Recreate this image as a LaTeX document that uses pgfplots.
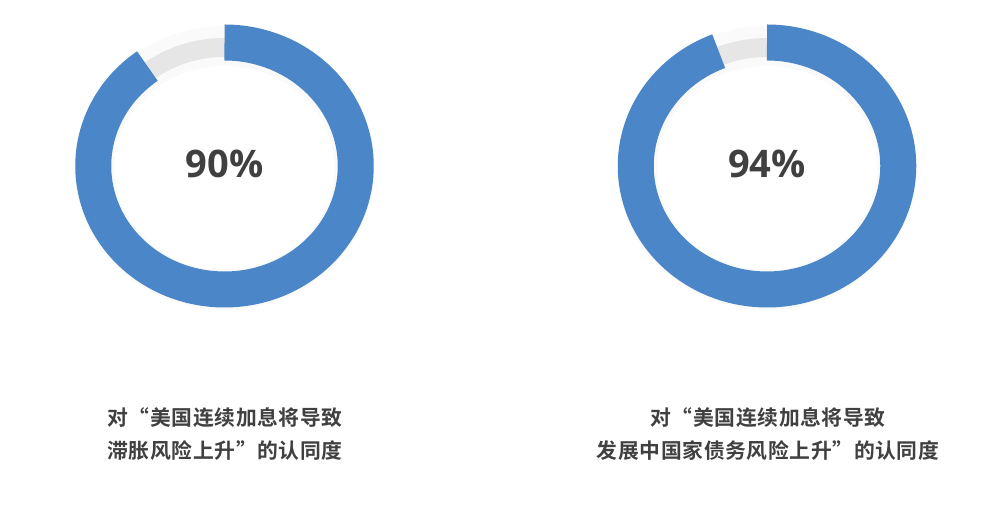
\documentclass[border=0pt]{standalone}
\usepackage{pgfplots}
\pgfplotsset{compat=1.18}
\usepackage{fontspec}
\setmainfont{Open Sans}
\newfontfamily\cjkb{Noto Sans CJK SC Bold}[LetterSpace=3]
\definecolor{ringblue}{HTML}{4A86C8}
\definecolor{track}{HTML}{E6E6E6}
\definecolor{txt}{HTML}{404040}
% agreement values (percent)
\def\valA{90}
\def\valB{94}
\pgfmathsetmacro\startA{90-3.6*\valA}
\pgfmathsetmacro\startB{90-3.6*\valB}
\begin{document}
\begin{tikzpicture}
\begin{axis}[
  scale only axis, width=494.5pt, height=253.5pt,
  xmin=0, xmax=989, ymin=0, ymax=507,
  hide axis, clip=false,
]
\addplot[draw=none] coordinates {(0,0) (989,507)};
% faint shadows
\addplot[domain=0:360, samples=240, variable=\t, draw=black, opacity=0.018, line width=20pt]
  ({224.5+130*cos(\t)},{339+122*sin(\t)});
\addplot[domain=0:360, samples=240, variable=\t, draw=black, opacity=0.018, line width=20pt]
  ({767+130*cos(\t)},{339+122*sin(\t)});
% tracks
\addplot[domain=0:360, samples=240, variable=\t, draw=track, line width=9.5pt]
  ({224.5+126*cos(\t)},{341+118.5*sin(\t)});
\addplot[domain=0:360, samples=240, variable=\t, draw=track, line width=9.5pt]
  ({767+126*cos(\t)},{341+118.5*sin(\t)});
% value arcs
\addplot[domain=\startA:90, samples=240, variable=\t, draw=ringblue, line width=18pt]
  ({224.5+131.25*cos(\t)},{341+123.5*sin(\t)});
\addplot[domain=\startB:90, samples=240, variable=\t, draw=ringblue, line width=18pt]
  ({767+131.25*cos(\t)},{341+123.5*sin(\t)});
% centre labels
\node[font=\bfseries\fontsize{19}{21}\selectfont, text=txt] at (axis cs:224.5,343) {\valA\%};
\node[font=\bfseries\fontsize{19}{21}\selectfont, text=txt] at (axis cs:767,343) {\valB\%};
% captions
\node[font=\cjkb\fontsize{10.4}{12}\selectfont, text=txt] at (axis cs:225,89.5) {对“美国连续加息将导致};
\node[font=\cjkb\fontsize{10.4}{12}\selectfont, text=txt] at (axis cs:225,56) {滞胀风险上升”的认同度};
\node[font=\cjkb\fontsize{10.4}{12}\selectfont, text=txt] at (axis cs:768,89.5) {对“美国连续加息将导致};
\node[font=\cjkb\fontsize{10.4}{12}\selectfont, text=txt] at (axis cs:768,56) {发展中国家债务风险上升”的认同度};
\end{axis}
\end{tikzpicture}
\end{document}
